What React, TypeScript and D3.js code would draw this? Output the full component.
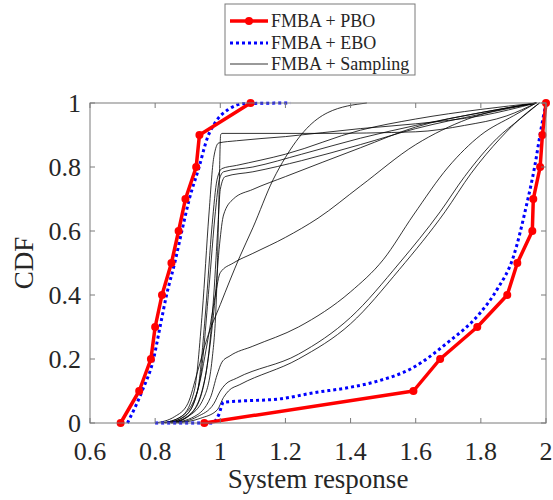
import React from 'react';
import * as d3 from 'd3';

// CDF levels shared by the marker series
const cdfLevels = [0, 0.1, 0.2, 0.3, 0.4, 0.5, 0.6, 0.7, 0.8, 0.9, 1.0];

// FMBA + PBO (lower and upper bounds)
const pboLowerX = [0.694, 0.751, 0.787, 0.8, 0.821, 0.85, 0.872, 0.893, 0.926, 0.936, 1.093];
const pboUpperX = [0.951, 1.593, 1.675, 1.789, 1.881, 1.912, 1.958, 1.961, 1.982, 1.989, 2.0];

// FMBA + EBO (lower and upper bounds)
const eboLowerX = [0.715, 0.76, 0.795, 0.815, 0.835, 0.86, 0.882, 0.905, 0.935, 0.96, 0.985, 1.025, 1.075, 1.215];
const eboLowerCdf = [0, 0.1, 0.2, 0.3, 0.4, 0.5, 0.6, 0.7, 0.8, 0.89, 0.94, 0.98, 0.998, 1];
const eboUpperX = [0.8, 0.975, 0.995, 1.01, 1.05, 1.18, 1.29, 1.39, 1.48, 1.59, 1.695, 1.797, 1.849, 1.9, 1.94, 1.965, 1.985, 2.0];
const eboUpperCdf = [0, 0, 0.025, 0.065, 0.068, 0.075, 0.095, 0.11, 0.13, 0.172, 0.249, 0.343, 0.416, 0.52, 0.68, 0.8, 0.92, 1.0];

// FMBA + Sampling curves
const samplingX = [
  [0.84, 0.9, 0.95, 0.975, 0.99, 0.997, 1.001, 1.005, 1.3, 1.6, 1.75, 1.88, 1.97],
  [0.82, 0.88, 0.92, 0.945, 0.965, 0.98, 0.995, 1.05, 1.2, 1.43, 1.6, 1.8, 1.97],
  [0.83, 0.89, 0.93, 0.955, 0.975, 0.99, 1.005, 1.05, 1.2, 1.43, 1.6, 1.8, 1.97],
  [0.84, 0.9, 0.94, 0.965, 0.985, 0.997, 1.01, 1.1, 1.25, 1.43, 1.6, 1.8, 1.97],
  [0.85, 0.91, 0.955, 0.98, 0.993, 1.0, 1.015, 1.1, 1.25, 1.43, 1.6, 1.8, 1.97],
  [0.86, 0.92, 0.96, 0.985, 0.998, 1.01, 1.04, 1.1, 1.2, 1.43, 1.6, 1.8, 1.97],
  [0.82, 0.88, 0.93, 0.96, 0.985, 1.0, 1.04, 1.1, 1.2, 1.3, 1.43, 1.6, 1.76, 1.97],
  [0.8, 0.86, 0.9, 0.93, 0.958, 1.0, 1.06, 1.1, 1.162, 1.2, 1.265, 1.33, 1.45],
  [0.85, 0.92, 0.97, 0.99, 1.005, 1.03, 1.1, 1.24, 1.4, 1.5, 1.593, 1.7, 1.8, 1.9, 1.97],
  [0.86, 0.93, 0.98, 1.0, 1.015, 1.05, 1.24, 1.4, 1.55, 1.675, 1.75, 1.85, 1.92, 1.98],
  [0.87, 0.94, 0.99, 1.01, 1.025, 1.06, 1.24, 1.4, 1.55, 1.69, 1.77, 1.86, 1.93, 1.98],
];
const samplingCdf = [
  [0, 0.02, 0.08, 0.2, 0.45, 0.75, 0.9, 0.905, 0.905, 0.91, 0.93, 0.96, 1],
  [0, 0.02, 0.1, 0.35, 0.65, 0.83, 0.875, 0.882, 0.895, 0.92, 0.935, 0.96, 1],
  [0, 0.02, 0.1, 0.35, 0.62, 0.76, 0.795, 0.805, 0.84, 0.915, 0.95, 0.98, 1],
  [0, 0.03, 0.15, 0.42, 0.66, 0.76, 0.785, 0.8, 0.84, 0.89, 0.93, 0.97, 1],
  [0, 0.03, 0.15, 0.4, 0.62, 0.73, 0.77, 0.785, 0.82, 0.87, 0.92, 0.965, 1],
  [0, 0.04, 0.18, 0.4, 0.56, 0.65, 0.7, 0.73, 0.77, 0.86, 0.925, 0.97, 1],
  [0, 0.02, 0.1, 0.25, 0.4, 0.47, 0.5, 0.53, 0.58, 0.64, 0.74, 0.87, 0.95, 1],
  [0, 0.02, 0.06, 0.16, 0.26, 0.37, 0.52, 0.61, 0.76, 0.83, 0.92, 0.97, 1],
  [0, 0.02, 0.08, 0.15, 0.19, 0.21, 0.24, 0.3, 0.41, 0.51, 0.65, 0.8, 0.9, 0.96, 1],
  [0, 0.02, 0.06, 0.1, 0.12, 0.14, 0.215, 0.33, 0.5, 0.66, 0.77, 0.89, 0.95, 1],
  [0, 0.015, 0.04, 0.08, 0.1, 0.12, 0.2, 0.31, 0.48, 0.66, 0.78, 0.89, 0.96, 1],
];

const xTicks = [0.6, 0.8, 1, 1.2, 1.4, 1.6, 1.8, 2];
const yTicks = [0, 0.2, 0.4, 0.6, 0.8, 1];

const legendLabels = ['FMBA + PBO', 'FMBA + EBO', 'FMBA + Sampling'];

const W = 553;
const H = 500;
const FONT = '"Liberation Serif", "Times New Roman", serif';

const App = () => {
  const x = d3.scaleLinear().domain([0.6, 2]).range([90, 546]);
  const y = d3.scaleLinear().domain([0, 1]).range([423, 103]);

  const zip = (xs: number[], ys: number[]) => xs.map((v, i) => [v, ys[i]] as [number, number]);

  const smooth = d3
    .line<[number, number]>()
    .x(d => x(d[0]))
    .y(d => y(d[1]))
    .curve(d3.curveMonotoneX);
  const straight = d3
    .line<[number, number]>()
    .x(d => x(d[0]))
    .y(d => y(d[1]));

  const pboLower = zip(pboLowerX, cdfLevels);
  const pboUpper = zip(pboUpperX, cdfLevels);

  const [x0, x1] = x.range();
  const [y0, y1] = y.range();
  const tick = 5;
  const axisColor = '#7a7a7a';

  return (
    <svg width={W} height={H} style={{ position: 'absolute', left: 0, top: 0, background: '#fff' }}>
      {/* sampling curves */}
      <g fill="none" stroke="#000" strokeWidth={0.8}>
        {samplingX.map((xs, i) => (
          <path key={i} d={smooth(zip(xs, samplingCdf[i])) || ''} />
        ))}
      </g>

      {/* EBO */}
      <g fill="none" stroke="#0000ff" strokeWidth={3} strokeDasharray="3,3">
        <path d={smooth(zip(eboLowerX, eboLowerCdf)) || ''} />
        <path d={smooth(zip(eboUpperX, eboUpperCdf)) || ''} />
      </g>

      {/* PBO */}
      <g fill="none" stroke="#ff0000" strokeWidth={3.5} strokeLinejoin="round">
        <path d={straight(pboLower) || ''} />
        <path d={straight(pboUpper) || ''} />
      </g>
      <g fill="#ff0000">
        {[...pboLower, ...pboUpper].map((d, i) => (
          <circle key={i} cx={x(d[0])} cy={y(d[1])} r={4} />
        ))}
      </g>

      {/* axes box */}
      <rect x={x0} y={y1} width={x1 - x0} height={y0 - y1} fill="none" stroke={axisColor} strokeWidth={1} />
      <g stroke={axisColor} strokeWidth={1}>
        {xTicks.map(t => (
          <g key={t}>
            <line x1={x(t)} x2={x(t)} y1={y0} y2={y0 - tick} />
            <line x1={x(t)} x2={x(t)} y1={y1} y2={y1 + tick} />
          </g>
        ))}
        {yTicks.map(t => (
          <g key={t}>
            <line x1={x0} x2={x0 + tick} y1={y(t)} y2={y(t)} />
            <line x1={x1} x2={x1 - tick} y1={y(t)} y2={y(t)} />
          </g>
        ))}
      </g>

      <g fontFamily={FONT} fontSize={26} fill="#262626">
        {xTicks.map(t => (
          <text key={t} x={x(t)} y={460} textAnchor="middle">
            {d3.format('~g')(t)}
          </text>
        ))}
        {yTicks.map(t => (
          <text key={t} x={81} y={y(t)} textAnchor="end" dominantBaseline="central">
            {d3.format('~g')(t)}
          </text>
        ))}
      </g>

      <text x={(x0 + x1) / 2} y={488} textAnchor="middle" fontFamily={FONT} fontSize={27} fill="#262626">
        System response
      </text>
      <text
        transform={`translate(33,${(y0 + y1) / 2}) rotate(-90)`}
        textAnchor="middle"
        fontFamily={FONT}
        fontSize={27}
        fill="#262626"
      >
        CDF
      </text>

      {/* legend */}
      <g>
        <rect x={225} y={4} width={190} height={71} fill="#fff" stroke={axisColor} strokeWidth={1} />
        <line x1={230} x2={268} y1={21} y2={21} stroke="#ff0000" strokeWidth={3.5} />
        <circle cx={249} cy={21} r={4} fill="#ff0000" />
        <line x1={230} x2={268} y1={43} y2={43} stroke="#0000ff" strokeWidth={3} strokeDasharray="3,3" />
        <line x1={230} x2={268} y1={64} y2={64} stroke="#000" strokeWidth={0.8} />
        {legendLabels.map((l, i) => (
          <text
            key={l}
            x={271}
            y={[21, 43, 64][i]}
            dominantBaseline="central"
            fontFamily={FONT}
            fontSize={18}
            fill="#262626"
          >
            {l}
          </text>
        ))}
      </g>
    </svg>
  );
};

export default App;
